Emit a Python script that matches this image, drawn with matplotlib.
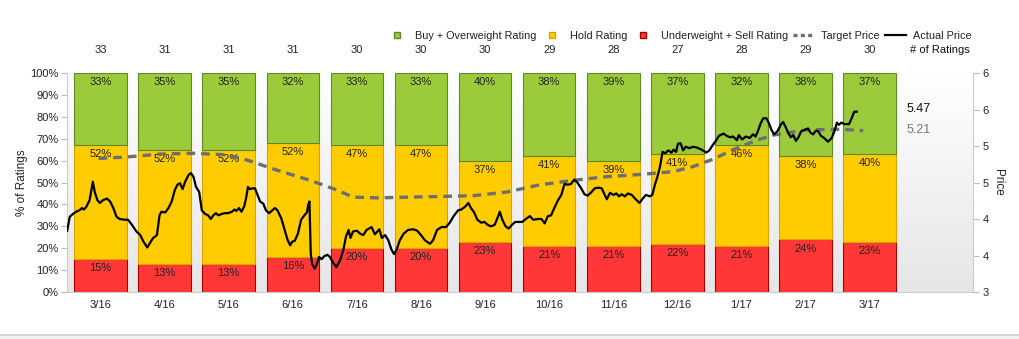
import matplotlib.pyplot as plt
import numpy as np
from matplotlib.lines import Line2D
from matplotlib.patches import Rectangle
from matplotlib.colors import LinearSegmentedColormap

plt.rcParams['font.family'] = ['Liberation Sans', 'DejaVu Sans']

# monthly rating breakdown
months = ['3/16', '4/16', '5/16', '6/16', '7/16', '8/16', '9/16',
          '10/16', '11/16', '12/16', '1/17', '2/17', '3/17']
n_ratings = [33, 31, 31, 31, 30, 30, 30, 29, 28, 27, 28, 29, 30]
sell_pct = [15, 13, 13, 16, 20, 20, 23, 21, 21, 22, 21, 24, 23]
hold_pct = [52, 52, 52, 52, 47, 47, 37, 41, 39, 41, 46, 38, 40]
buy_pct = [33, 35, 35, 32, 33, 33, 40, 38, 39, 37, 32, 38, 37]

# actual price, position in months from 3/16
price_t = [-0.52, -0.48, -0.43, -0.38, -0.33, -0.29, -0.26, -0.22, -0.17, -0.12,
           -0.09, -0.05, -0.01, 0.04, 0.10, 0.15, 0.20, 0.25, 0.30, 0.38,
           0.43, 0.49, 0.56, 0.62, 0.67, 0.73, 0.77, 0.82, 0.88, 0.92,
           0.95, 1.01, 1.06, 1.11, 1.16, 1.20, 1.24, 1.28, 1.32, 1.37,
           1.41, 1.45, 1.49, 1.54, 1.58, 1.63, 1.68, 1.72, 1.76, 1.80,
           1.84, 1.89, 1.94, 1.99, 2.05, 2.09, 2.12, 2.16, 2.20, 2.24,
           2.27, 2.30, 2.33, 2.37, 2.41, 2.45, 2.49, 2.54, 2.58, 2.63,
           2.68, 2.72, 2.76, 2.82, 2.87, 2.92, 2.96, 2.99, 3.03, 3.08,
           3.13, 3.18, 3.22, 3.24, 3.26, 3.27, 3.28, 3.30, 3.34, 3.37,
           3.41, 3.45, 3.49, 3.54, 3.58, 3.63, 3.68, 3.74, 3.79, 3.83,
           3.87, 3.90, 3.94, 4.00, 4.05, 4.10, 4.15, 4.23, 4.28, 4.35,
           4.39, 4.44, 4.49, 4.54, 4.58, 4.62, 4.67, 4.73, 4.80, 4.88,
           4.94, 5.00, 5.06, 5.14, 5.19, 5.25, 5.32, 5.39, 5.45, 5.51,
           5.58, 5.63, 5.69, 5.74, 5.78, 5.83, 5.88, 5.94, 5.99, 6.04,
           6.09, 6.15, 6.21, 6.23, 6.27, 6.32, 6.37, 6.42, 6.47, 6.52,
           6.58, 6.65, 6.70, 6.75, 6.82, 6.88, 6.93, 6.98, 7.03, 7.08,
           7.14, 7.19, 7.24, 7.29, 7.34, 7.39, 7.44, 7.50, 7.55, 7.60,
           7.65, 7.71, 7.77, 7.82, 7.90, 7.95, 8.00, 8.05, 8.09, 8.13,
           8.18, 8.23, 8.29, 8.34, 8.41, 8.46, 8.51, 8.57, 8.61, 8.65,
           8.69, 8.73, 8.77, 8.81, 8.86, 8.91, 8.94, 8.98, 9.01, 9.05,
           9.09, 9.13, 9.19, 9.24, 9.30, 9.38, 9.45, 9.50, 9.55, 9.60,
           9.65, 9.72, 9.77, 9.82, 9.87, 9.93, 9.96, 10.01, 10.07, 10.13,
           10.18, 10.22, 10.26, 10.30, 10.34, 10.39, 10.43, 10.47, 10.51, 10.56,
           10.62, 10.65, 10.69, 10.73, 10.77, 10.81, 10.85, 10.89, 10.93, 10.98,
           11.04, 11.08, 11.12, 11.16, 11.20, 11.24, 11.29, 11.35, 11.41, 11.45,
           11.49, 11.52, 11.56, 11.61, 11.68, 11.72, 11.76, 11.80]
price = [3.84, 4.03, 4.07, 4.10, 4.12, 4.15, 4.13, 4.17, 4.26, 4.51,
         4.37, 4.26, 4.22, 4.26, 4.28, 4.24, 4.15, 4.03, 4.00, 3.99,
         3.99, 3.92, 3.83, 3.78, 3.69, 3.61, 3.67, 3.74, 3.78, 4.05,
         4.10, 4.09, 4.15, 4.24, 4.40, 4.47, 4.49, 4.41, 4.51, 4.60,
         4.63, 4.58, 4.44, 4.37, 4.12, 4.07, 4.05, 4.00, 4.05, 4.08,
         4.05, 4.07, 4.08, 4.08, 4.10, 4.13, 4.11, 4.15, 4.10, 4.17,
         4.28, 4.44, 4.41, 4.42, 4.42, 4.33, 4.24, 4.21, 4.12, 4.08,
         4.12, 4.15, 4.12, 4.01, 3.86, 3.71, 3.64, 3.69, 3.70, 3.80,
         3.99, 4.05, 4.09, 4.19, 4.24, 3.89, 3.53, 3.39, 3.32, 3.37,
         3.48, 3.45, 3.49, 3.51, 3.48, 3.40, 3.34, 3.44, 3.58, 3.76,
         3.85, 3.74, 3.83, 3.84, 3.80, 3.78, 3.85, 3.89, 3.79, 3.86,
         3.74, 3.78, 3.71, 3.58, 3.52, 3.58, 3.71, 3.80, 3.85, 3.86,
         3.84, 3.78, 3.71, 3.66, 3.71, 3.85, 3.89, 3.89, 3.95, 4.04,
         4.12, 4.13, 4.17, 4.22, 4.15, 4.09, 3.99, 3.95, 3.96, 3.92,
         3.90, 3.92, 4.05, 4.10, 3.99, 3.90, 3.87, 3.92, 3.96, 3.96,
         3.96, 4.01, 4.04, 3.99, 4.00, 4.00, 3.94, 4.04, 4.05, 4.15,
         4.26, 4.33, 4.48, 4.47, 4.48, 4.54, 4.50, 4.42, 4.34, 4.32,
         4.36, 4.42, 4.43, 4.42, 4.27, 4.36, 4.33, 4.35, 4.31, 4.34,
         4.31, 4.35, 4.33, 4.28, 4.22, 4.28, 4.33, 4.31, 4.33, 4.47,
         4.58, 4.72, 4.92, 4.90, 4.94, 4.91, 4.95, 4.92, 5.03, 5.04,
         4.94, 4.99, 4.97, 4.99, 4.98, 4.95, 4.91, 4.94, 5.01, 5.07,
         5.14, 5.17, 5.14, 5.12, 5.13, 5.08, 5.15, 5.09, 5.13, 5.11,
         5.16, 5.13, 5.21, 5.31, 5.38, 5.38, 5.31, 5.22, 5.16, 5.20,
         5.30, 5.33, 5.26, 5.18, 5.12, 5.15, 5.07, 5.12, 5.20, 5.22,
         5.24, 5.18, 5.16, 5.21, 5.20, 5.14, 5.11, 5.06, 5.11, 5.20,
         5.32, 5.29, 5.32, 5.30, 5.30, 5.38, 5.47, 5.47]

# target price
target_t = [-0.03, 0.41, 0.93, 1.45, 1.97, 2.28, 2.75, 3.27, 3.68, 3.94,
            4.31, 4.83, 5.35, 5.82, 6.34, 6.86, 7.38, 7.90, 8.42, 8.94,
            9.25, 9.56, 9.87, 10.24, 10.50, 11.02, 11.54, 11.90]
target = [4.83, 4.85, 4.89, 4.90, 4.88, 4.81, 4.67, 4.53, 4.40, 4.30,
          4.29, 4.30, 4.31, 4.32, 4.37, 4.47, 4.53, 4.58, 4.61, 4.65,
          4.72, 4.82, 4.95, 5.08, 5.15, 5.22, 5.23, 5.21]

green, yellow, red = '#9BCB3B', '#FFCC00', '#FF3737'
green_e, yellow_e, red_e = '#5E8C20', '#D9A400', '#A80000'

fig = plt.figure(figsize=(10.2, 3.39), dpi=100)
ax = fig.add_axes([0.0657, 0.1386, 0.888, 0.646])

x = np.arange(len(months))
sell = np.array(sell_pct)
hold = np.array(hold_pct)
buy = 100 - sell - hold

# background gradient
grad = np.linspace(1, 0, 256).reshape(-1, 1)
ax.imshow(grad, cmap=LinearSegmentedColormap.from_list('g', ['#e6e6e6', '#ffffff']),
          extent=[0, 1, 0, 1], transform=ax.transAxes, aspect='auto', zorder=0)

w = 0.82
ax.bar(x, sell, w, color=red, edgecolor=red_e, linewidth=0.8, zorder=1)
ax.bar(x, hold, w, bottom=sell, color=yellow, edgecolor=yellow_e, linewidth=0.8, zorder=1)
ax.bar(x, buy, w, bottom=sell + hold, color=green, edgecolor=green_e, linewidth=0.8, zorder=1)

for i in range(len(months)):
    for top, v in [(sell[i], sell_pct[i]), (sell[i] + hold[i], hold_pct[i]), (100, buy_pct[i])]:
        ax.annotate(f'{v}%', (x[i], top), xytext=(0, -3), textcoords='offset points',
                    ha='center', va='top', fontsize=8, color='#222222', zorder=2)
    ax.text(x[i], 1.105, str(n_ratings[i]), transform=ax.get_xaxis_transform(),
            ha='center', va='center', fontsize=8, color='#222222')
ax.text(13.1, 1.105, '# of Ratings', transform=ax.get_xaxis_transform(),
        ha='center', va='center', fontsize=8, color='#111111')

ax.set_xlim(-0.523, 13.61)
ax.set_ylim(0, 100)
ax.set_yticks(np.arange(0, 101, 10))
ax.set_yticklabels([f'{v}%' for v in range(0, 101, 10)])
ax.set_xticks(x)
ax.set_xticklabels(months)
ax.tick_params(axis='x', length=0, pad=6, labelsize=8, colors='#222222')
ax.tick_params(axis='y', length=4, width=0.8, color='#bbbbbb', labelsize=8, labelcolor='#222222', pad=2)
ax.set_ylabel('% of Ratings', fontsize=8.5, color='#222222', labelpad=2)
for s in ['top', 'right']:
    ax.spines[s].set_visible(False)
for s in ['left', 'bottom']:
    ax.spines[s].set_color('#cccccc')

ax2 = ax.twinx()
ax2.set_ylim(3, 6)
ticks = np.arange(3, 6.01, 0.5)
ax2.set_yticks(ticks)
ax2.set_yticklabels([str(int(np.floor(v + 0.5))) for v in ticks])
ax2.tick_params(axis='y', length=4, width=0.8, color='#bbbbbb', labelsize=8, labelcolor='#222222', pad=3)
ax2.set_ylabel('Price', fontsize=8.5, color='#222222', rotation=-90, labelpad=11)
for s in ['top', 'left', 'bottom']:
    ax2.spines[s].set_visible(False)
ax2.spines['right'].set_color('#cccccc')

ax2.plot(target_t, target, color='#6e6e6e', lw=2.4, ls=(0, (2.6, 1.8)), zorder=3)
ax2.plot(price_t, price, color='black', lw=1.6, zorder=4)
ax2.text(12.58, price[-1] + 0.04, f'{price[-1]:.2f}', fontsize=9, color='#111111', va='center')
ax2.text(12.58, target[-1] + 0.01, f'{target[-1]:.2f}', fontsize=9, color='#777777', va='center')

handles = [
    Line2D([], [], marker='s', ls='none', markersize=4, mfc=green, mec=green_e),
    Line2D([], [], marker='s', ls='none', markersize=4, mfc=yellow, mec=yellow_e),
    Line2D([], [], marker='s', ls='none', markersize=4, mfc=red, mec=red_e),
    Line2D([], [], color='#6e6e6e', lw=2.4, ls=(0, (1.2, 1.0))),
    Line2D([], [], color='black', lw=1.6),
]
labels = ['Buy + Overweight Rating', 'Hold Rating', 'Underweight + Sell Rating',
          'Target Price', 'Actual Price']
fig.legend(handles, labels, ncol=5, loc='center right', bbox_to_anchor=(0.953, 0.895),
           frameon=False, fontsize=7.8, handlelength=1.9, handletextpad=0.7,
           columnspacing=0.5, borderpad=0, borderaxespad=0, labelcolor='#222222')

# bottom border strip
fig.patches.append(Rectangle((0, 0), 1, 4 / 339, transform=fig.transFigure,
                             facecolor='#f2f2f2', edgecolor='none', zorder=0))
fig.add_artist(Line2D([0, 1], [4 / 339, 4 / 339], transform=fig.transFigure,
                      color='#d0d0d0', lw=1.2))

fig.savefig('out.png', dpi=100)
